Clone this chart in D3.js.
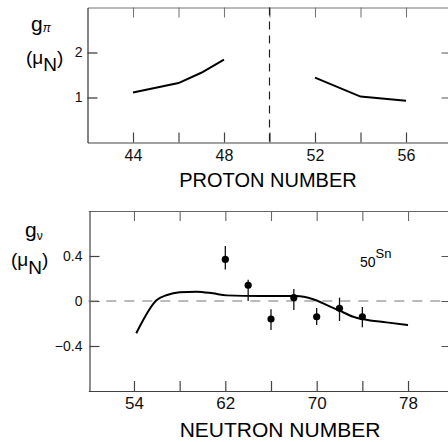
<!DOCTYPE html>
<html>
<head>
<meta charset="utf-8">
<script src="https://cdn.jsdelivr.net/npm/d3@7"></script>
<style>
  body { margin: 0; background: #fff; }
  svg { display: block; font-family: "Liberation Sans", Arial, sans-serif; }
  .tick text { fill: #111; }
</style>
</head>
<body>
<div class="board"></div>
<script>
// top panel: g_pi vs proton number
const protonN = [44, 46, 47, 48];
const gPiLow = [1.11, 1.32, 1.55, 1.84];
const protonN2 = [52, 54, 56];
const gPiHigh = [1.44, 1.02, 0.93];
const protonTicks = [44, 46, 48, 50, 52, 54, 56];
const protonLabels = [44, 48, 52, 56];
const gPiTicks = [1, 2];

// bottom panel: g_nu vs neutron number (Sn)
const curveN = [54.2, 56, 56.9, 58, 59.5, 60.9, 62.1, 65, 68.2, 69.7, 70.9, 72, 73.2, 74.1, 76.1, 78];
const curveG = [-0.287, 0.009, 0.053, 0.077, 0.083, 0.068, 0.05, 0.044, 0.044, 0.015, -0.036, -0.086, -0.14, -0.163, -0.19, -0.213];
const expN = [62, 64, 66, 68, 70, 72, 74];
const expG = [0.37, 0.14, -0.16, 0.03, -0.14, -0.065, -0.14];
const expHi = [0.49, 0.19, -0.074, 0.107, -0.062, 0.03, -0.053];
const expLo = [0.28, 0.0, -0.258, -0.08, -0.213, -0.178, -0.234];
const neutronTicks = [54, 58, 62, 66, 70, 74, 78];
const neutronLabels = [54, 62, 70, 78];
const gNuTicks = [-0.4, 0, 0.4];

const width = 448, height = 442;
const svg = d3.select(".board").append("svg")
  .attr("width", width).attr("height", height);

// ---------- top panel ----------
const x1 = d3.scaleLinear().domain([42, 58]).range([87.5, 451.5]);
const y1 = d3.scaleLinear().domain([0, 3]).range([142.5, 7.5]);

const upper = svg.append("g");

upper.append("g").attr("transform", "translate(0,142.5)")
  .call(d3.axisBottom(x1).tickValues(protonTicks).tickSize(-10).tickSizeOuter(0).tickPadding(7)
    .tickFormat(d => protonLabels.includes(d) ? d : ""))
  .call(g => g.selectAll("path, line").attr("stroke", "#444").attr("stroke-width", 1.2))
  .call(g => g.selectAll("text").attr("font-size", 16).attr("font-family", "Liberation Sans, Arial"));

upper.append("g").attr("transform", "translate(0,7.5)")
  .call(d3.axisTop(x1).tickValues(protonTicks).tickSize(-10).tickSizeOuter(0).tickFormat(""))
  .call(g => g.selectAll("path, line").attr("stroke", "#777").attr("stroke-width", 1.1));

upper.append("g").attr("transform", "translate(87.5,0)")
  .call(d3.axisLeft(y1).tickValues(gPiTicks).tickSize(-10).tickSizeOuter(0).tickPadding(5)
    .tickFormat(d3.format("d")))
  .call(g => g.selectAll("path, line").attr("stroke", "#333").attr("stroke-width", 1.2))
  .call(g => g.selectAll("text").attr("font-size", 14).attr("font-family", "Liberation Sans, Arial"));

upper.append("g").attr("transform", "translate(451.5,0)")
  .call(d3.axisRight(y1).tickValues(gPiTicks).tickSize(-10).tickSizeOuter(0).tickFormat(""))
  .call(g => g.selectAll("path, line").attr("stroke", "#555"));

// dashed shell closure at Z = 50
upper.append("line")
  .attr("x1", x1(50)).attr("x2", x1(50))
  .attr("y1", y1(3)).attr("y2", y1(0))
  .attr("stroke", "#222").attr("stroke-width", 1.2)
  .attr("stroke-dasharray", "8,6");

const line1 = d3.line().x(d => x1(d[0])).y(d => y1(d[1]));
upper.append("path").datum(d3.zip(protonN, gPiLow))
  .attr("d", line1).attr("fill", "none").attr("stroke", "#000").attr("stroke-width", 2);
upper.append("path").datum(d3.zip(protonN2, gPiHigh))
  .attr("d", line1).attr("fill", "none").attr("stroke", "#000").attr("stroke-width", 2);

// labels
const lab1 = upper.append("text").attr("x", 31).attr("y", 31).attr("font-size", 21);
lab1.append("tspan").text("g");
lab1.append("tspan").attr("font-size", 12).attr("dy", 1).attr("font-style", "italic").text("π");
const lab1b = upper.append("text").attr("x", 26).attr("y", 64).attr("font-size", 19);
lab1b.append("tspan").text("(μ");
lab1b.append("tspan").attr("dy", 7).text("N");
lab1b.append("tspan").attr("dy", -7).text(")");

upper.append("text").attr("x", 268).attr("y", 187).attr("text-anchor", "middle")
  .attr("font-size", 20).text("PROTON NUMBER");

// ---------- bottom panel ----------
const x2 = d3.scaleLinear().domain([50, 82]).range([88.3, 453.7]);
const y2 = d3.scaleLinear().domain([-0.8, 0.8]).range([391, 211]);

const lower = svg.append("g");

lower.append("g").attr("transform", "translate(0,391)")
  .call(d3.axisBottom(x2).tickValues(neutronTicks).tickSize(-10).tickSizeOuter(0).tickPadding(6)
    .tickFormat(d => neutronLabels.includes(d) ? d : ""))
  .call(g => g.selectAll("path, line").attr("stroke", "#444").attr("stroke-width", 1.2))
  .call(g => g.selectAll("text").attr("font-size", 17).attr("font-family", "Liberation Sans, Arial"));

lower.append("g").attr("transform", "translate(0,211)")
  .call(d3.axisTop(x2).tickValues(neutronTicks).tickSize(-10).tickSizeOuter(0).tickFormat(""))
  .call(g => g.selectAll("path, line").attr("stroke", "#666").attr("stroke-width", 1.1));

lower.append("g").attr("transform", "translate(89.5,0)")
  .call(d3.axisLeft(y2).tickValues(gNuTicks).tickSize(-10).tickSizeOuter(0).tickPadding(7)
    .tickFormat(d => d === 0 ? "0" : d3.format(".1f")(d)))
  .call(g => g.selectAll("path, line").attr("stroke", "#444").attr("stroke-width", 1.2))
  .call(g => g.selectAll("text").attr("font-size", 14).attr("font-family", "Liberation Sans, Arial"));

lower.append("g").attr("transform", "translate(451.5,0)")
  .call(d3.axisRight(y2).tickValues(gNuTicks).tickSize(-10).tickSizeOuter(0).tickFormat(""))
  .call(g => g.selectAll("path, line").attr("stroke", "#555"));

// zero line
lower.append("line")
  .attr("x1", x2(50)).attr("x2", x2(82))
  .attr("y1", y2(0)).attr("y2", y2(0))
  .attr("stroke", "#777").attr("stroke-width", 1.2)
  .attr("stroke-dasharray", "10,8");

const line2 = d3.line().x(d => x2(d[0])).y(d => y2(d[1])).curve(d3.curveMonotoneX);
lower.append("path").datum(d3.zip(curveN, curveG))
  .attr("d", line2).attr("fill", "none").attr("stroke", "#000").attr("stroke-width", 2);

const pts = expN.map((n, i) => ({ n: n, g: expG[i], hi: expHi[i], lo: expLo[i] }));
lower.selectAll(".err").data(pts).enter().append("line")
  .attr("class", "err")
  .attr("x1", d => x2(d.n)).attr("x2", d => x2(d.n))
  .attr("y1", d => y2(d.hi)).attr("y2", d => y2(d.lo))
  .attr("stroke", "#111").attr("stroke-width", 1.3);
lower.selectAll(".pt").data(pts).enter().append("circle")
  .attr("class", "pt")
  .attr("cx", d => x2(d.n)).attr("cy", d => y2(d.g))
  .attr("r", 3.6).attr("fill", "#000");

const lab2 = lower.append("text").attr("x", 25).attr("y", 237).attr("font-size", 21);
lab2.append("tspan").text("g");
lab2.append("tspan").attr("font-size", 12).attr("dy", 3).text("ν");
const lab2b = lower.append("text").attr("x", 11).attr("y", 266).attr("font-size", 19);
lab2b.append("tspan").text("(μ");
lab2b.append("tspan").attr("dy", 8).text("N");
lab2b.append("tspan").attr("dy", -8).text(")");

const sn = lower.append("text").attr("x", 360).attr("y", 267).attr("font-size", 14);
sn.append("tspan").text("50");
sn.append("tspan").attr("dy", -9).attr("font-size", 13).text("Sn");

lower.append("text").attr("x", 280).attr("y", 437).attr("text-anchor", "middle")
  .attr("font-size", 21).text("NEUTRON NUMBER");
</script>
</body>
</html>
